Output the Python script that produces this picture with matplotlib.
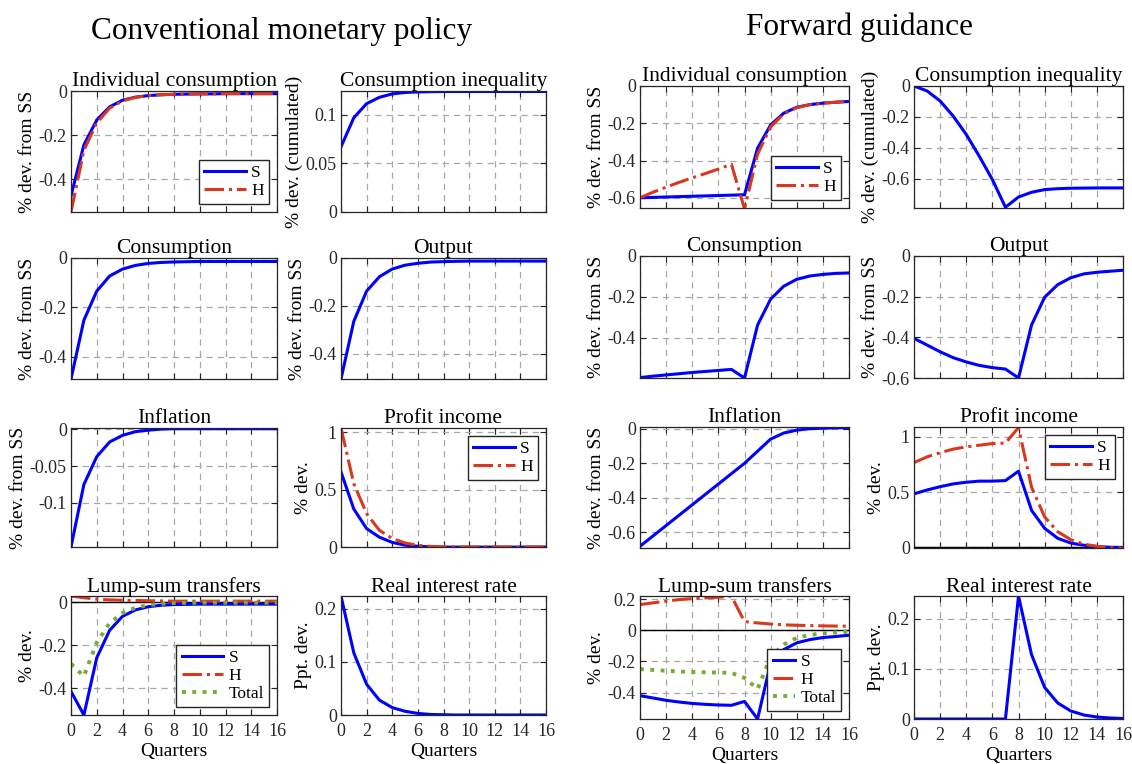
import matplotlib.pyplot as plt
import numpy as np

plt.rcParams['font.family'] = ['Liberation Serif', 'DejaVu Serif']

quarters = np.arange(17)
xticks = [0, 2, 4, 6, 8, 10, 12, 14, 16]

# ---- conventional monetary policy ----
cmp_indiv_S = [-0.477, -0.245, -0.132, -0.072, -0.042, -0.028, -0.021, -0.017, -0.015,
               -0.014, -0.013, -0.013, -0.012, -0.012, -0.012, -0.012, -0.012]
cmp_indiv_H = [-0.55, -0.27, -0.145, -0.078, -0.045, -0.029, -0.021, -0.017, -0.015,
               -0.014, -0.013, -0.013, -0.012, -0.012, -0.012, -0.012, -0.012]
cmp_ineq = [0.067, 0.097, 0.1115, 0.118, 0.1215, 0.123, 0.1235, 0.1238, 0.124,
            0.124, 0.124, 0.124, 0.124, 0.124, 0.124, 0.124, 0.124]
cmp_cons = [-0.49, -0.252, -0.134, -0.073, -0.045, -0.03, -0.022, -0.018, -0.016,
            -0.015, -0.014, -0.014, -0.014, -0.014, -0.014, -0.014, -0.014]
cmp_output = [-0.505, -0.264, -0.138, -0.078, -0.046, -0.03, -0.022, -0.017, -0.015,
              -0.014, -0.013, -0.013, -0.013, -0.013, -0.013, -0.013, -0.013]
cmp_infl = [-0.16, -0.075, -0.037, -0.017, -0.008, -0.003, -0.001, 0.0005, 0.001,
            0.001, 0.001, 0.001, 0.001, 0.001, 0.001, 0.001, 0.001]
cmp_profit_S = [0.653, 0.33, 0.16, 0.085, 0.04, 0.016, 0.006, 0.001, -0.001,
                -0.001, -0.001, -0.001, -0.001, -0.001, -0.001, -0.001, -0.001]
cmp_profit_H = [1.035, 0.55, 0.29, 0.145, 0.075, 0.035, 0.015, 0.005, 0.001,
                0.0, 0.0, 0.0, 0.0, 0.0, 0.0, 0.0, 0.0]
cmp_lump_S = [-0.415, -0.525, -0.258, -0.13, -0.065, -0.035, -0.02, -0.013, -0.01,
              -0.009, -0.008, -0.008, -0.008, -0.008, -0.008, -0.008, -0.008]
cmp_lump_H = [0.03, 0.022, 0.015, 0.012, 0.01, 0.009, 0.008, 0.007, 0.006,
              0.006, 0.006, 0.006, 0.006, 0.006, 0.006, 0.006, 0.006]
cmp_lump_T = [-0.286, -0.344, -0.187, -0.096, -0.05, -0.025, -0.012, -0.006, -0.003,
              -0.002, -0.001, -0.001, -0.001, -0.001, -0.001, -0.001, -0.001]
cmp_rate = [0.2245, 0.117, 0.058, 0.028, 0.014, 0.007, 0.003, 0.001, 0.0005,
            0.0, 0.0, 0.0, 0.0, 0.0, 0.0, 0.0, 0.0]

# ---- forward guidance ----
fg_indiv_S = [-0.6, -0.598, -0.596, -0.594, -0.592, -0.59, -0.588, -0.586, -0.584,
              -0.334, -0.209, -0.146, -0.114, -0.1, -0.092, -0.087, -0.083]
fg_indiv_H = [-0.6, -0.57, -0.543, -0.517, -0.493, -0.47, -0.446, -0.42, -0.66,
              -0.366, -0.22, -0.15, -0.117, -0.1, -0.092, -0.087, -0.083]
fg_ineq = [0.0, -0.032, -0.097, -0.195, -0.314, -0.455, -0.606, -0.785, -0.719,
           -0.688, -0.671, -0.665, -0.662, -0.661, -0.66, -0.66, -0.66]
fg_cons = [-0.595, -0.588, -0.582, -0.576, -0.57, -0.565, -0.56, -0.555, -0.597,
           -0.338, -0.211, -0.148, -0.114, -0.098, -0.09, -0.085, -0.083]
fg_output = [-0.405, -0.438, -0.471, -0.5, -0.521, -0.538, -0.549, -0.556, -0.6,
             -0.339, -0.203, -0.141, -0.107, -0.088, -0.08, -0.075, -0.07]
fg_infl = [-0.68, -0.62, -0.56, -0.5, -0.44, -0.38, -0.32, -0.26, -0.2,
           -0.13, -0.06, -0.025, -0.008, 0.0, 0.003, 0.005, 0.006]
fg_profit_S = [0.485, 0.52, 0.55, 0.575, 0.59, 0.6, 0.6, 0.605, 0.69,
               0.336, 0.173, 0.083, 0.04, 0.02, 0.008, 0.002, 0.0]
fg_profit_H = [0.768, 0.82, 0.857, 0.89, 0.91, 0.925, 0.94, 0.945, 1.085,
               0.545, 0.277, 0.143, 0.07, 0.03, 0.01, -0.002, -0.008]
fg_lump_S = [-0.42, -0.435, -0.45, -0.461, -0.47, -0.476, -0.48, -0.482, -0.457,
             -0.57, -0.21, -0.124, -0.081, -0.06, -0.047, -0.04, -0.032]
fg_lump_H = [0.165, 0.176, 0.187, 0.197, 0.203, 0.208, 0.212, 0.219, 0.056,
             0.047, 0.04, 0.035, 0.032, 0.03, 0.028, 0.027, 0.026]
fg_lump_T = [-0.249, -0.255, -0.26, -0.265, -0.268, -0.27, -0.272, -0.274, -0.306,
             -0.377, -0.171, -0.092, -0.049, -0.03, -0.02, -0.014, -0.009]
fg_rate = [0.0, 0.0, 0.0, 0.0, 0.0, 0.0, 0.0, 0.0, 0.245,
           0.128, 0.063, 0.032, 0.016, 0.008, 0.004, 0.002, 0.001]

# line look per agent type
styles = {
    'S': dict(color='#0000ff', ls='-', lw=2.2),
    'H': dict(color='#d9381e', ls='-.', lw=2.2),
    'Total': dict(color='#77ac30', ls=':', lw=2.8),
}

W, H = 1132, 764
fig = plt.figure(figsize=(W / 100, H / 100), dpi=100)


def add_axes(x0, x1, y0, y1):
    # pixel box -> figure fraction
    return fig.add_axes([x0 / W, 1 - y1 / H, (x1 - x0) / W, (y1 - y0) / H])


def panel(ax, series, title, ylbl, ylim, yticks, ytl=None, legloc=None,
          zero=False, bottom=False, hlen=2.4):
    for y, key in series:
        ax.plot(quarters, y, label=key, **styles[key])
    if zero:
        ax.axhline(0, color='black', lw=1.0, zorder=1)
    ax.set_xlim(0, 16)
    ax.set_ylim(*ylim)
    ax.set_xticks(xticks)
    ax.set_yticks(yticks)
    if ytl is not None:
        ax.set_yticklabels(ytl)
    ax.grid(True, ls=(0, (5, 4)), color='#a8a8a8', lw=0.9)
    ax.set_axisbelow(True)
    ax.tick_params(direction='in', top=True, right=True, length=4,
                   labelsize=13, colors='#262626', pad=3)
    ax.tick_params(axis='x', pad=6)
    for sp in ax.spines.values():
        sp.set_color('#262626')
        sp.set_linewidth(0.9)
    ax.set_title(title, fontsize=15.5, pad=3)
    ax.set_ylabel(ylbl, fontsize=14, labelpad=2)
    if bottom:
        ax.set_xlabel('Quarters', fontsize=14, labelpad=2)
    else:
        ax.set_xticklabels([])
    if legloc is not None:
        leg = ax.legend(loc=legloc, fontsize=12.5, handlelength=hlen,
                        handletextpad=0.3, labelspacing=0.1, borderpad=0.3,
                        borderaxespad=0.45, fancybox=False, framealpha=1)
        leg.get_frame().set_edgecolor('#262626')
        leg.get_frame().set_linewidth(1.0)


cols_x = [(71, 277), (341, 546), (640, 849), (914, 1123)]
rows_left = [(91, 212), (258, 379), (428, 547), (596, 715)]
rows_right = [(86, 208), (256, 378), (427, 548), (596, 719)]

lab_ss = '% dev. from SS'
lab_cum = '% dev. (cumulated)'
lab_dev = '% dev.'
lab_ppt = 'Ppt. dev.'

# conventional monetary policy
ax = add_axes(*cols_x[0], *rows_left[0])
panel(ax, [(cmp_indiv_S, 'S'), (cmp_indiv_H, 'H')], 'Individual consumption',
      lab_ss, (-0.55, 0), [-0.4, -0.2, 0], ['-0.4', '-0.2', '0'], legloc='lower right')
ax = add_axes(*cols_x[1], *rows_left[0])
panel(ax, [(cmp_ineq, 'S')], 'Consumption inequality', lab_cum,
      (0, 0.1245), [0, 0.05, 0.1], ['0', '0.05', '0.1'])
ax = add_axes(*cols_x[0], *rows_left[1])
panel(ax, [(cmp_cons, 'S')], 'Consumption', lab_ss, (-0.49, 0),
      [-0.4, -0.2, 0], ['-0.4', '-0.2', '0'])
ax = add_axes(*cols_x[1], *rows_left[1])
panel(ax, [(cmp_output, 'S')], 'Output', lab_ss, (-0.505, 0),
      [-0.4, -0.2, 0], ['-0.4', '-0.2', '0'])
ax = add_axes(*cols_x[0], *rows_left[2])
panel(ax, [(cmp_infl, 'S')], 'Inflation', lab_ss, (-0.16, 0.002),
      [-0.1, -0.05, 0], ['-0.1', '-0.05', '0'])
ax = add_axes(*cols_x[1], *rows_left[2])
panel(ax, [(cmp_profit_S, 'S'), (cmp_profit_H, 'H')], 'Profit income', lab_dev,
      (0, 1.035), [0, 0.5, 1], ['0', '0.5', '1'], legloc='upper right')
ax = add_axes(*cols_x[0], *rows_left[3])
panel(ax, [(cmp_lump_S, 'S'), (cmp_lump_H, 'H'), (cmp_lump_T, 'Total')],
      'Lump-sum transfers', lab_dev, (-0.525, 0.03), [-0.4, -0.2, 0],
      ['-0.4', '-0.2', '0'], legloc='lower right', zero=True, bottom=True)
ax = add_axes(*cols_x[1], *rows_left[3])
panel(ax, [(cmp_rate, 'S')], 'Real interest rate', lab_ppt, (0, 0.2245),
      [0, 0.1, 0.2], ['0', '0.1', '0.2'], bottom=True)

# forward guidance
ax = add_axes(*cols_x[2], *rows_right[0])
panel(ax, [(fg_indiv_S, 'S'), (fg_indiv_H, 'H')], 'Individual consumption',
      lab_ss, (-0.655, 0), [-0.6, -0.4, -0.2, 0], ['-0.6', '-0.4', '-0.2', '0'],
      legloc='lower right')
ax = add_axes(*cols_x[3], *rows_right[0])
panel(ax, [(fg_ineq, 'S')], 'Consumption inequality', lab_cum, (-0.79, 0),
      [-0.6, -0.4, -0.2, 0], ['-0.6', '-0.4', '-0.2', '0'])
ax = add_axes(*cols_x[2], *rows_right[1])
panel(ax, [(fg_cons, 'S')], 'Consumption', lab_ss, (-0.597, 0),
      [-0.4, -0.2, 0], ['-0.4', '-0.2', '0'])
ax = add_axes(*cols_x[3], *rows_right[1])
panel(ax, [(fg_output, 'S')], 'Output', lab_ss, (-0.6, 0),
      [-0.6, -0.4, -0.2, 0], ['-0.6', '-0.4', '-0.2', '0'])
ax = add_axes(*cols_x[2], *rows_right[2])
panel(ax, [(fg_infl, 'S')], 'Inflation', lab_ss, (-0.69, 0.01),
      [-0.6, -0.4, -0.2, 0], ['-0.6', '-0.4', '-0.2', '0'])
ax = add_axes(*cols_x[3], *rows_right[2])
panel(ax, [(fg_profit_S, 'S'), (fg_profit_H, 'H')], 'Profit income', lab_dev,
      (-0.005, 1.09), [0, 0.5, 1], ['0', '0.5', '1'], legloc='upper right', zero=True)
ax = add_axes(*cols_x[2], *rows_right[3])
panel(ax, [(fg_lump_S, 'S'), (fg_lump_H, 'H'), (fg_lump_T, 'Total')],
      'Lump-sum transfers', lab_dev, (-0.57, 0.22), [-0.4, -0.2, 0, 0.2],
      ['-0.4', '-0.2', '0', '0.2'], legloc='lower right', zero=True, bottom=True,
      hlen=1.3)
ax = add_axes(*cols_x[3], *rows_right[3])
panel(ax, [(fg_rate, 'S')], 'Real interest rate', lab_ppt, (0, 0.245),
      [0, 0.1, 0.2], ['0', '0.1', '0.2'], bottom=True)

fig.text(282 / W, 1 - 32 / H, 'Conventional monetary policy', fontsize=22.5,
         ha='center', va='center')
fig.text(859 / W, 1 - 27 / H, 'Forward guidance', fontsize=22.5,
         ha='center', va='center')

fig.savefig('out.png', dpi=100)
